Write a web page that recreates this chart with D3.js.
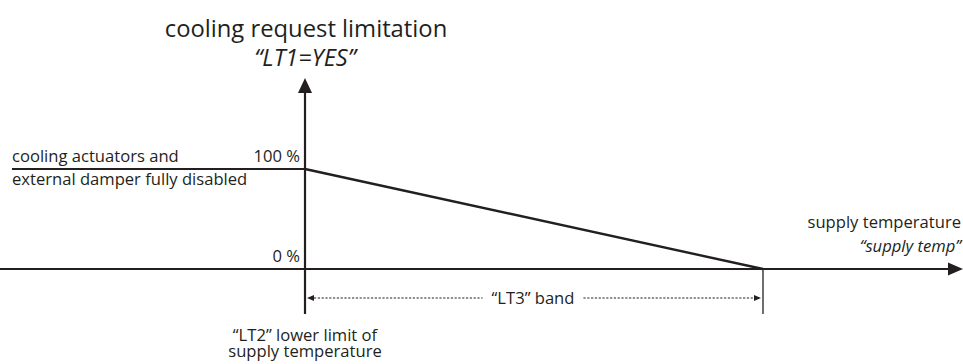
<!DOCTYPE html>
<html>
<head>
<meta charset="utf-8">
<script src="https://cdn.jsdelivr.net/npm/d3@7"></script>
<style>
  html, body { margin: 0; padding: 0; background: #fff; }
  svg { display: block; }
  text { font-family: "Open Sans", "Noto Sans", sans-serif; fill: #231f20; }
</style>
</head>
<body>
<svg id="chart" width="963" height="364"></svg>
<script>
// Supply temperature positions: LT2 and LT2 + LT3 (band end), in band units
const rampX = [0, 1];
// Cooling request limitation (%) at those temperatures
const rampY = [100, 0];
// Y ticks
const yTickValues = [0, 100];
const yTickLabels = ["0 %", "100 %"];
// Texts
const titleLines = ["cooling request limitation", "\u201cLT1=YES\u201d"];
const xTitleLines = ["supply temperature", "\u201csupply temp\u201d"];
const limitLabelLines = ["cooling actuators and", "external damper fully disabled"];
const lt2LabelLines = ["\u201cLT2\u201d lower limit of", "supply temperature"];
const bandLabel = "\u201cLT3\u201d band";

const ink = "#231f20";
const fs = 16.6;
const svg = d3.select("#chart");

const x = d3.scaleLinear().domain([0, 1]).range([305, 763]);
const y = d3.scaleLinear().domain([0, 100]).range([269, 169]);

// Horizontal (temperature) axis with arrow
svg.append("line").attr("x1", 0).attr("x2", 952).attr("y1", y(0)).attr("y2", y(0))
  .attr("stroke", ink).attr("stroke-width", 2.2);
svg.append("path").attr("d", `M963,${y(0)} L948,${y(0) - 6.5} L948,${y(0) + 6.5} Z`).attr("fill", ink);

// Vertical (limitation) axis with arrow
svg.append("line").attr("x1", x(0)).attr("x2", x(0)).attr("y1", 90).attr("y2", 314)
  .attr("stroke", ink).attr("stroke-width", 2.2);
svg.append("path").attr("d", `M${x(0)},78 L${x(0) - 7},93 L${x(0) + 7},93 Z`).attr("fill", ink);

// 100 % level line on the left of LT2
svg.append("line").attr("x1", 12).attr("x2", x(0)).attr("y1", y(100)).attr("y2", y(100))
  .attr("stroke", ink).attr("stroke-width", 2.2);

// Ramp from 100 % at LT2 down to 0 % at LT2 + LT3
svg.append("path")
  .datum(rampX.map((d, i) => [d, rampY[i]]))
  .attr("d", d3.line().x(d => x(d[0])).y(d => y(d[1])))
  .attr("fill", "none").attr("stroke", ink).attr("stroke-width", 2.4);

// Tick marking the band end
svg.append("line").attr("x1", x(1)).attr("x2", x(1)).attr("y1", y(0)).attr("y2", 314)
  .attr("stroke", ink).attr("stroke-width", 1.3);

// Y tick labels
svg.selectAll("text.ytick").data(yTickValues).join("text")
  .attr("class", "ytick")
  .attr("x", x(0) - 5).attr("y", d => y(d) - 7)
  .attr("text-anchor", "end").attr("font-size", fs)
  .text((d, i) => yTickLabels[i]);

// Title
svg.append("text").attr("x", 306).attr("y", 37).attr("text-anchor", "middle")
  .attr("font-size", 23.8).text(titleLines[0]);
svg.append("text").attr("x", 305).attr("y", 66).attr("text-anchor", "middle")
  .attr("font-size", 23.5).attr("font-style", "italic").text(titleLines[1]);

// Label of the fully disabled level
svg.append("text").attr("x", 12).attr("y", 162).attr("font-size", fs).text(limitLabelLines[0]);
svg.append("text").attr("x", 12).attr("y", 185).attr("font-size", fs).text(limitLabelLines[1]);

// X axis title
svg.append("text").attr("x", 961).attr("y", 228).attr("text-anchor", "end")
  .attr("font-size", fs).text(xTitleLines[0]);
svg.append("text").attr("x", 961).attr("y", 252).attr("text-anchor", "end")
  .attr("font-size", fs).attr("font-style", "italic").text(xTitleLines[1]);

// LT2 label
svg.append("text").attr("x", x(0)).attr("y", 341).attr("text-anchor", "middle")
  .attr("font-size", fs).text(lt2LabelLines[0]);
svg.append("text").attr("x", x(0)).attr("y", 357).attr("text-anchor", "middle")
  .attr("font-size", fs).text(lt2LabelLines[1]);

// LT3 band: dotted dimension line with arrows and label
const bandY = 298;
const bandMid = 533;
const label = svg.append("text").attr("x", bandMid).attr("y", bandY + 5.5)
  .attr("text-anchor", "middle").attr("font-size", fs).text(bandLabel);
const lw = label.node().getComputedTextLength();
const gap = 9;
[[x(0) + 9, bandMid - lw / 2 - gap], [bandMid + lw / 2 + gap, x(1) - 9]].forEach(([a, b]) => {
  svg.append("line").attr("x1", a).attr("x2", b).attr("y1", bandY).attr("y2", bandY)
    .attr("stroke", ink).attr("stroke-width", 1).attr("stroke-dasharray", "2.2,1.6");
});
svg.append("path").attr("d", `M${x(0) + 2},${bandY} L${x(0) + 9},${bandY - 3} L${x(0) + 9},${bandY + 3} Z`).attr("fill", ink);
svg.append("path").attr("d", `M${x(1) - 2},${bandY} L${x(1) - 9},${bandY - 3} L${x(1) - 9},${bandY + 3} Z`).attr("fill", ink);
</script>
</body>
</html>
